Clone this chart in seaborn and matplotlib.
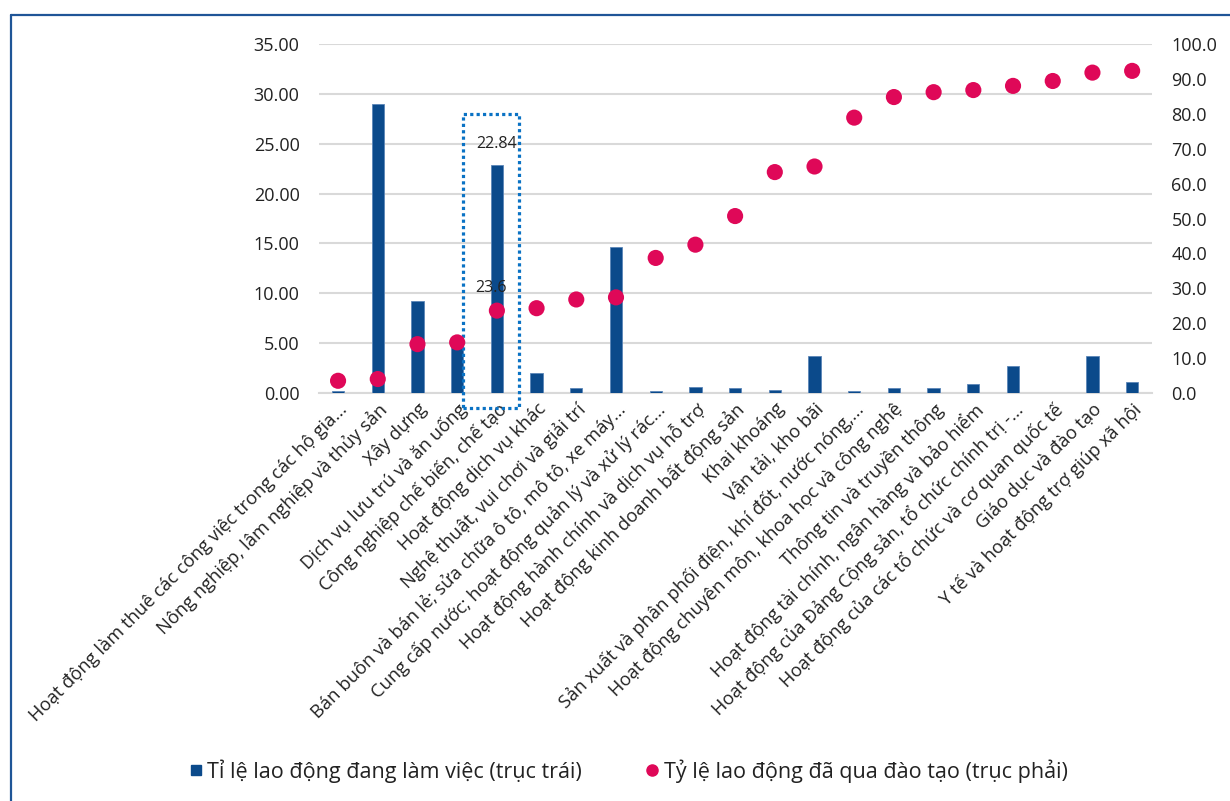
import matplotlib
matplotlib.use("Agg")
import matplotlib.pyplot as plt
import seaborn as sns
import pandas as pd
import numpy as np
from matplotlib.patches import Rectangle
from matplotlib.lines import Line2D

# Industries, ordered by share of trained workers
categories = [
    "Hoạt động làm thuê các công việc trong các hộ gia...",
    "Nông nghiệp, lâm nghiệp và thủy sản",
    "Xây dựng",
    "Dịch vụ lưu trú và ăn uống",
    "Công nghiệp chế biến, chế tạo",
    "Hoạt động dịch vụ khác",
    "Nghệ thuật, vui chơi và giải trí",
    "Bán buôn và bán lẻ; sửa chữa ô tô, mô tô, xe máy...",
    "Cung cấp nước; hoạt động quản lý và xử lý rác...",
    "Hoạt động hành chính và dịch vụ hỗ trợ",
    "Hoạt động kinh doanh bất động sản",
    "Khai khoáng",
    "Vận tải, kho bãi",
    "Sản xuất và phân phối điện, khí đốt, nước nóng,...",
    "Hoạt động chuyên môn, khoa học và công nghệ",
    "Thông tin và truyền thông",
    "Hoạt động tài chính, ngân hàng và bảo hiểm",
    "Hoạt động của Đảng Cộng sản, tổ chức chính trị -...",
    "Hoạt động của các tổ chức và cơ quan quốc tế",
    "Giáo dục và đào tạo",
    "Y tế và hoạt động trợ giúp xã hội",
]

# Share of employed workers (%), left axis
employed_share = [0.25, 29.0, 9.2, 5.1, 22.84, 2.0, 0.5, 14.6, 0.25, 0.6, 0.55,
                  0.3, 3.7, 0.2, 0.55, 0.5, 0.9, 2.7, 0.0, 3.7, 1.1]

# Share of trained workers (%), right axis
trained_share = [3.5, 4.0, 14.0, 14.5, 23.6, 24.3, 26.8, 27.4, 38.7, 42.5, 50.7,
                 63.3, 64.9, 78.9, 84.8, 86.2, 86.8, 88.0, 89.4, 91.8, 92.3]

left_ticks = [0, 5, 10, 15, 20, 25, 30, 35]
right_ticks = [0, 10, 20, 30, 40, 50, 60, 70, 80, 90, 100]

legend_bar = "Tỉ lệ lao động đang làm việc (trục trái)"
legend_dot = "Tỷ lệ lao động đã qua đào tạo (trục phải)"

BAR_COLOR = "#0B4A8B"
DOT_COLOR = "#DF0858"
GRID_COLOR = "#D9D9D9"
FRAME_COLOR = "#1F5597"
BOX_COLOR = "#0A72C4"

sns.set_theme(style="white")
plt.rcParams["font.family"] = ["Open Sans", "DejaVu Sans"]
plt.rcParams["text.color"] = "#222222"

df = pd.DataFrame({
    "category": categories,
    "employed": employed_share,
    "trained": trained_share,
})
df["pos"] = np.arange(len(df))

fig = plt.figure(figsize=(12.30, 8.01), dpi=100)
ax = fig.add_axes([319 / 1230, 1 - 393 / 801, (1152 - 319) / 1230, (393 - 44) / 801])

sns.barplot(data=df, x="category", y="employed", color=BAR_COLOR, width=0.31,
            saturation=1, edgecolor="#5B86B8", linewidth=0.6, ax=ax, zorder=3)
ax.set_ylim(0, 35)
ax.set_xlim(-0.48, len(df) - 0.5)
ax.set_yticks(left_ticks)
ax.set_yticklabels([f"{v:.2f}" for v in left_ticks])
ax.yaxis.grid(True, color=GRID_COLOR, linewidth=1.5, zorder=0)
ax.set_axisbelow(True)
for side in ["top", "right", "left"]:
    ax.spines[side].set_visible(False)
ax.spines["bottom"].set_color(GRID_COLOR)
ax.spines["bottom"].set_linewidth(1.5)
ax.tick_params(axis="both", length=0, labelsize=13, colors="#222222")
ax.tick_params(axis="y", pad=14)
ax.set_xlabel("")
ax.set_ylabel("")
ax.set_xticks(df["pos"])
ax.set_xticklabels(categories, rotation=45, ha="right", va="top",
                   rotation_mode="anchor", fontsize=13.2)
ax.tick_params(axis="x", pad=5)

ax2 = ax.twinx()
sns.scatterplot(data=df, x="pos", y="trained", color=DOT_COLOR, s=135,
                edgecolor="none", ax=ax2, zorder=4)
ax2.set_ylim(0, 100)
ax2.set_yticks(right_ticks)
ax2.set_yticklabels([f"{v:.1f}" for v in right_ticks])
for side in ["top", "right", "left", "bottom"]:
    ax2.spines[side].set_visible(False)
ax2.tick_params(axis="y", length=0, labelsize=13, pad=14, colors="#222222")
ax2.set_ylabel("")
ax2.set_xlabel("")

# Value labels for the highlighted industry
hi = categories.index("Công nghiệp chế biến, chế tạo")
ax.annotate(f"{employed_share[hi]:.2f}", (hi, employed_share[hi]),
            xytext=(0, 15), textcoords="offset points", ha="center", va="center",
            fontsize=11.5, zorder=6)
ax2.annotate(f"{trained_share[hi]:.1f}", (hi, trained_share[hi]),
             xytext=(-4, 16.5), textcoords="offset points", ha="center", va="center",
             fontsize=11.5, zorder=6)

# Dotted highlight box around the manufacturing column
box = Rectangle((hi - 0.86, -1.5), 1.41, 29.5, fill=False, edgecolor=BOX_COLOR,
                linewidth=2.3, linestyle=(0, (1, 1)), clip_on=False, zorder=5)
ax.add_patch(box)

# Legend
handles = [
    Line2D([], [], marker="s", linestyle="none", color=BAR_COLOR, markersize=7),
    Line2D([], [], marker="o", linestyle="none", color=DOT_COLOR, markersize=8),
]
fig.legend(handles, [legend_bar, legend_dot], loc="center", ncol=2,
           bbox_to_anchor=(629 / 1230, 1 - 771 / 801), frameon=False,
           fontsize=15.5, handlelength=0.5, handletextpad=0.3, columnspacing=3.0)

# Outer frame (left and top edges)
fig.add_artist(Line2D([11 / 1230, 11 / 1230], [0, 1 - 14.5 / 801],
                      transform=fig.transFigure, color=FRAME_COLOR, linewidth=1.6))
fig.add_artist(Line2D([11 / 1230, 1], [1 - 14.5 / 801, 1 - 14.5 / 801],
                      transform=fig.transFigure, color=FRAME_COLOR, linewidth=1.6))

fig.savefig("out.png", dpi=100, facecolor="white")
